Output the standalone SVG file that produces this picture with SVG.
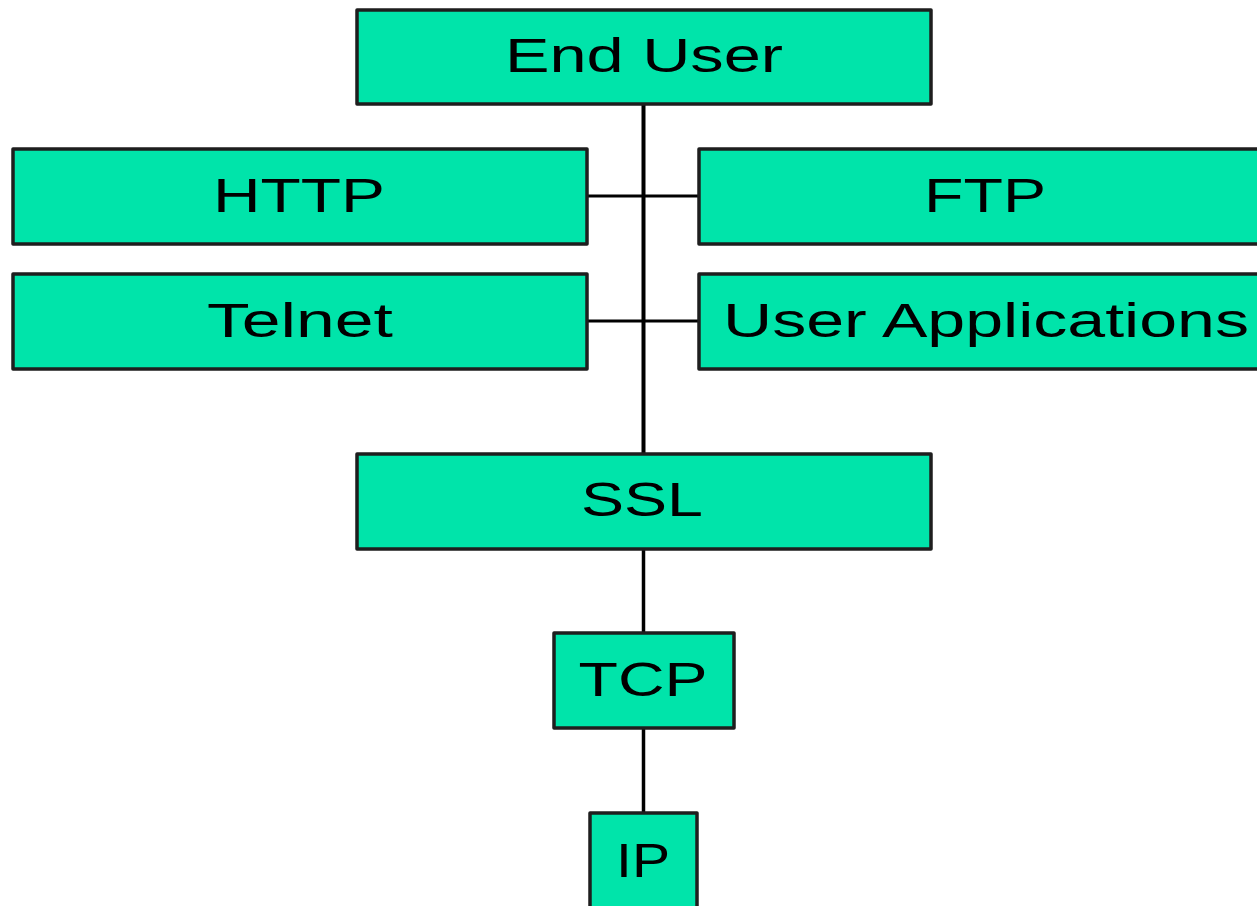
<svg xmlns="http://www.w3.org/2000/svg" width="1257" height="906" viewBox="0 0 1257 906">
<style>
.box{fill:#00E4AA;stroke:#1e1e1e;stroke-width:3.5;stroke-linejoin:round}
.lbl{font-family:"Liberation Sans",Arial,sans-serif;font-size:49px;fill:#000;text-anchor:middle}
.conn line{stroke:#000;stroke-width:3.5}
</style>
<rect width="1257" height="906" fill="#fff"/>
<g id="connectors" class="conn">
<line x1="643.5" y1="105" x2="643.5" y2="454" style="stroke-width:4"/>
<line x1="587" y1="196" x2="699" y2="196" style="stroke-width:3"/>
<line x1="587" y1="321" x2="699" y2="321" style="stroke-width:3"/>
<line x1="643.5" y1="549" x2="643.5" y2="633"/>
<line x1="643.5" y1="728" x2="643.5" y2="813"/>
</g>
<g id="end-user"><rect class="box" x="357" y="10" width="574" height="94"/><text class="lbl" x="644" y="72" textLength="278" lengthAdjust="spacingAndGlyphs">End User</text></g>
<g id="http"><rect class="box" x="13" y="149" width="574" height="95"/><text class="lbl" x="299" y="212" textLength="172" lengthAdjust="spacingAndGlyphs">HTTP</text></g>
<g id="ftp"><rect class="box" x="699" y="149" width="574" height="95"/><text class="lbl" x="985" y="212" textLength="122" lengthAdjust="spacingAndGlyphs">FTP</text></g>
<g id="telnet"><rect class="box" x="13" y="274" width="574" height="95"/><text class="lbl" x="300" y="337" textLength="186" lengthAdjust="spacingAndGlyphs">Telnet</text></g>
<g id="user-applications"><rect class="box" x="699" y="274" width="574" height="95"/><text class="lbl" x="986" y="337" textLength="526" lengthAdjust="spacingAndGlyphs">User Applications</text></g>
<g id="ssl"><rect class="box" x="357" y="454" width="574" height="95"/><text class="lbl" x="642" y="516" textLength="122" lengthAdjust="spacingAndGlyphs">SSL</text></g>
<g id="tcp"><rect class="box" x="554" y="633" width="180" height="95"/><text class="lbl" x="643" y="696" textLength="129" lengthAdjust="spacingAndGlyphs">TCP</text></g>
<g id="ip"><rect class="box" x="590" y="813" width="107" height="95"/><text class="lbl" x="643" y="877" textLength="54" lengthAdjust="spacingAndGlyphs">IP</text></g>
</svg>
